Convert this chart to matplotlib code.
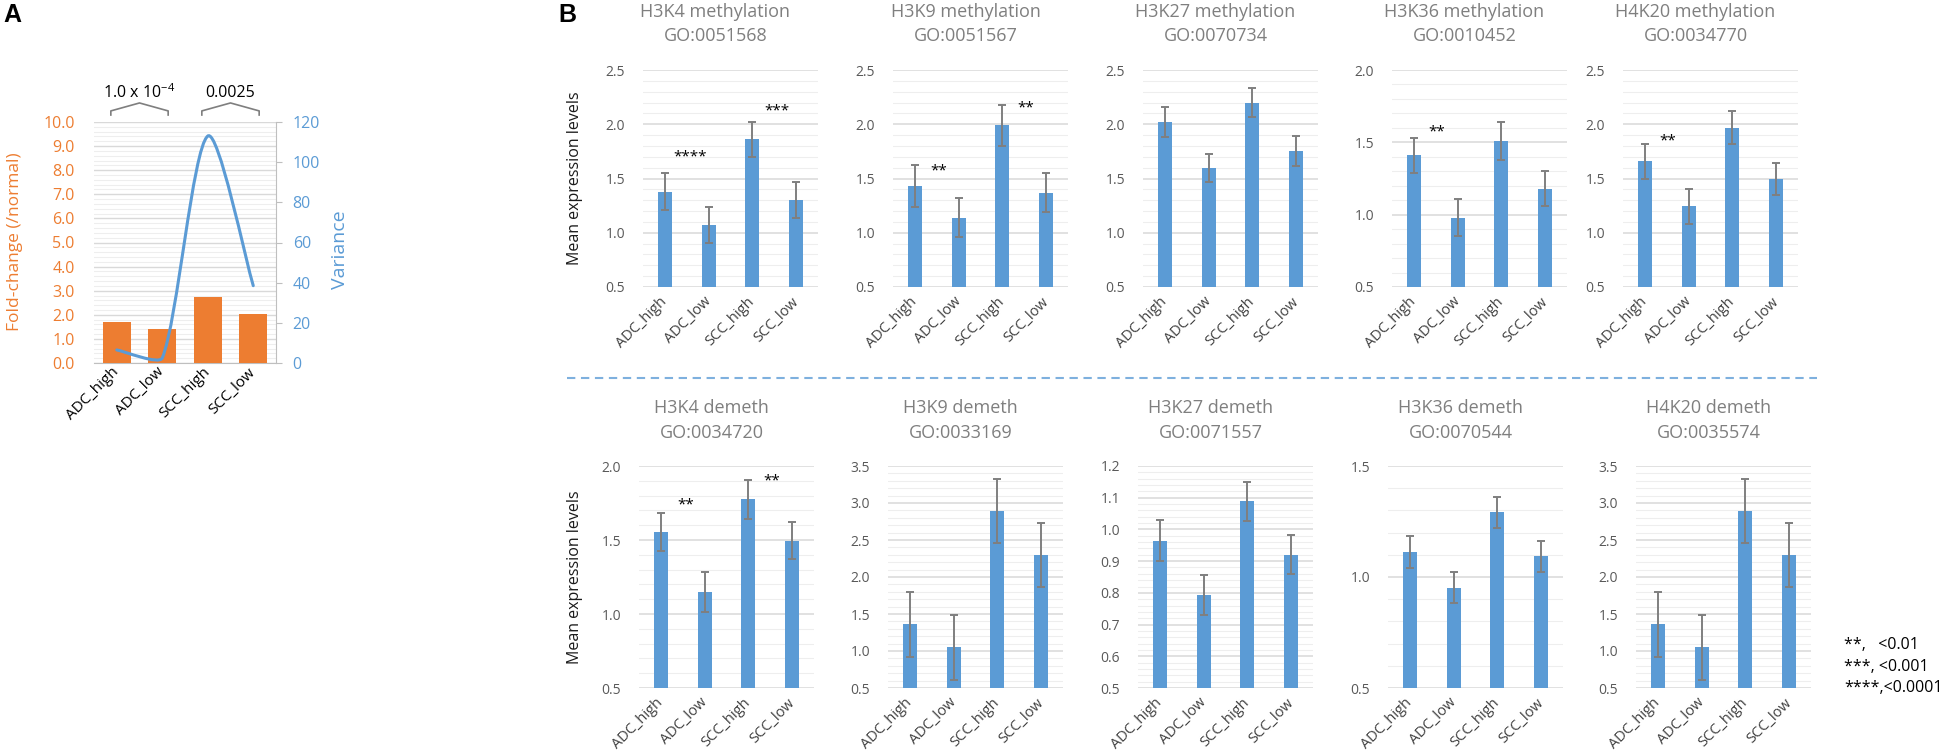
import numpy as np
import matplotlib
matplotlib.use('Agg')
import matplotlib.pyplot as plt
from matplotlib.path import Path
from matplotlib.patches import PathPatch
from matplotlib.lines import Line2D
from matplotlib.ticker import MultipleLocator, FormatStrFormatter
import matplotlib.transforms as mtrans

plt.rcParams['font.family'] = ['Open Sans', 'DejaVu Sans']
plt.rcParams['mathtext.fontset'] = 'custom'
plt.rcParams['mathtext.rm'] = 'Open Sans'
plt.rcParams['mathtext.it'] = 'Open Sans:italic'

# ---------------- data ----------------
categories = ['ADC_high', 'ADC_low', 'SCC_high', 'SCC_low']

# Panel A
fold_change = [1.70, 1.40, 2.75, 2.05]
variance = [6.5, 2.5, 113.0, 38.5]
pval_labels = ['1.0 x 10$^{-4}$', '0.0025']

# Panel B, methylation row
meth_titles = ['H3K4 methylation', 'H3K9 methylation', 'H3K27 methylation',
               'H3K36 methylation', 'H4K20 methylation']
meth_go = ['GO:0051568', 'GO:0051567', 'GO:0070734', 'GO:0010452', 'GO:0034770']
meth_means = [
    [1.38, 1.075, 1.86, 1.30],
    [1.43, 1.14, 1.99, 1.37],
    [2.02, 1.595, 2.20, 1.755],
    [1.41, 0.98, 1.51, 1.18],
    [1.657, 1.245, 1.97, 1.494],
]
meth_err = [
    [0.17, 0.165, 0.16, 0.165],
    [0.19, 0.18, 0.19, 0.18],
    [0.14, 0.13, 0.13, 0.14],
    [0.12, 0.13, 0.13, 0.12],
    [0.16, 0.16, 0.15, 0.15],
]
meth_stars = [
    [('****', 0.58, 1.70), ('***', 2.55, 2.12)],
    [('**', 0.55, 1.57), ('**', 2.53, 2.15)],
    [],
    [('**', 0.53, 1.57)],
    [('**', 0.53, 1.85)],
]
meth_scale = [(0.5, 2.5, 0.5, 0.1), (0.5, 2.5, 0.5, 0.1), (0.5, 2.5, 0.5, 0.1),
              (0.5, 2.0, 0.5, 0.1), (0.5, 2.5, 0.5, 0.1)]

# Panel B, demethylation row
demeth_titles = ['H3K4 demeth', 'H3K9 demeth', 'H3K27 demeth',
                 'H3K36 demeth', 'H4K20 demeth']
demeth_go = ['GO:0034720', 'GO:0033169', 'GO:0071557', 'GO:0070544', 'GO:0035574']
demeth_means = [
    [1.553, 1.15, 1.774, 1.496],
    [1.36, 1.053, 2.89, 2.30],
    [0.964, 0.793, 1.089, 0.92],
    [1.112, 0.951, 1.292, 1.093],
    [1.36, 1.05, 2.89, 2.30],
]
demeth_err = [
    [0.13, 0.135, 0.13, 0.125],
    [0.44, 0.44, 0.43, 0.43],
    [0.065, 0.062, 0.061, 0.062],
    [0.073, 0.07, 0.07, 0.07],
    [0.44, 0.44, 0.43, 0.43],
]
demeth_stars = [
    [('**', 0.57, 1.74), ('**', 2.54, 1.90)],
    [], [], [], [],
]
demeth_scale = [(0.5, 2.0, 0.5, 0.1), (0.5, 3.5, 0.5, 0.1), (0.5, 1.2, 0.1, 0.02),
                (0.5, 1.5, 0.5, 0.1), (0.5, 3.5, 0.5, 0.1)]

legend_lines = ['**,   <0.01', '***, <0.001', '****,<0.0001']

# ---------------- styling ----------------
W, H = 1950, 752
ORANGE = '#ED7D31'
BLUE = '#5B9BD5'
GRID_MAJ = '#D9D9D9'
GRID_MIN = '#EEEEEE'
TICK_GREY = '#595959'
TITLE_GREY = '#7F7F7F'

fig = plt.figure(figsize=(W / 100, H / 100), dpi=100)


def rect(left, top, right, bottom):
    return [left / W, 1 - bottom / H, (right - left) / W, (bottom - top) / H]


def ftext(x, y, s, **kw):
    return fig.text(x / W, 1 - y / H, s, **kw)


# ---------------- Panel A ----------------
axA = fig.add_axes(rect(94, 122, 276, 363))
xpos = np.arange(len(categories))
axA.bar(xpos, fold_change, width=0.62, color=ORANGE, zorder=3)
axA.set_xlim(-0.5, 3.5)
axA.set_ylim(0, 10)
axA.yaxis.set_major_locator(MultipleLocator(1.0))
axA.yaxis.set_minor_locator(MultipleLocator(0.2))
axA.yaxis.set_major_formatter(FormatStrFormatter('%.1f'))
axA.grid(axis='y', which='major', color=GRID_MAJ, lw=1.0, zorder=0)
axA.grid(axis='y', which='minor', color=GRID_MIN, lw=0.8, zorder=0)
axA.set_axisbelow(True)
for s in ['left', 'top', 'right']:
    axA.spines[s].set_visible(False)
axA.spines['bottom'].set_color('#BFBFBF')
axA.tick_params(axis='y', which='both', length=0, labelcolor=ORANGE,
                labelsize=11.5, pad=14)
axA.set_xticks(xpos)
axA.set_xticklabels(categories, rotation=45, ha='right', va='center',
                    rotation_mode='anchor', fontsize=11, color='black')
axA.tick_params(axis='x', length=0, pad=5)

axV = axA.twinx()
axV.set_ylim(0, 120)
axV.yaxis.set_major_locator(MultipleLocator(20))
for s in ['left', 'top', 'bottom']:
    axV.spines[s].set_visible(False)
axV.spines['right'].set_color('#BFBFBF')
axV.tick_params(axis='y', length=4, color='#BFBFBF', labelcolor=BLUE,
                labelsize=11.5, pad=8)

# smoothed variance line (Bezier through the data points, screen-space tangents)
pts = axV.transData.transform(np.column_stack([xpos, variance]))
n = len(pts)
before, after = [], []
for i in range(n):
    p_prev = pts[i - 1] if i > 0 else pts[i]
    p_next = pts[i + 1] if i < n - 1 else pts[i]
    d = (p_next - p_prev) / 6.0
    l_prev = np.hypot(*(pts[i] - p_prev)) if i > 0 else None
    l_next = np.hypot(*(p_next - pts[i])) if i < n - 1 else None
    s_prev = min(1.0, l_prev / l_next) if (l_prev and l_next) else 1.0
    s_next = min(1.0, l_next / l_prev) if (l_prev and l_next) else 1.0
    before.append(pts[i] - d * s_prev)
    after.append(pts[i] + d * s_next)
verts = [pts[0]]
codes = [Path.MOVETO]
for i in range(n - 1):
    verts += [after[i], before[i + 1], pts[i + 1]]
    codes += [Path.CURVE4] * 3
verts = axV.transData.inverted().transform(np.array(verts))
axV.add_patch(PathPatch(Path(verts, codes), facecolor='none', edgecolor=BLUE,
                        lw=2.2, zorder=5, capstyle='round'))

# brackets with p-values
trans = mtrans.blended_transform_factory(axA.transData, axA.transAxes)
for (i, j), lab in zip([(0, 1), (2, 3)], pval_labels):
    mid = (xpos[i] + xpos[j]) / 2
    bx = [mid - 0.63, mid - 0.63, mid, mid + 0.63, mid + 0.63]
    by = [1.029, 1.046, 1.079, 1.046, 1.029]
    axA.plot(bx, by, transform=trans, color='#7F7F7F', lw=1.2, clip_on=False)
    axA.text(mid, 1.122, lab, transform=trans, ha='center', va='center',
             fontsize=11.5, color='black')

ftext(15, 242, 'Fold-change (/normal)', rotation=90, color=ORANGE,
      fontsize=12.5, ha='center', va='center')
ftext(340, 250, 'Variance', rotation=90, color=BLUE, fontsize=14,
      ha='center', va='center')

# ---------------- Panel B ----------------
top_lefts = [643, 893, 1143, 1392, 1623]
bot_lefts = [639, 888, 1138, 1388, 1636]
AXW = 175


def bar_panel(ax, means, errs, scale, stars):
    lo, hi, major, minor = scale
    ax.bar(xpos, means, width=0.32, color=BLUE, zorder=3,
           yerr=errs, error_kw=dict(ecolor='#7F7F7F', elinewidth=1.4,
                                    capsize=2.6, capthick=1.4, zorder=4))
    ax.set_xlim(-0.5, 3.5)
    ax.set_ylim(lo, hi)
    ax.yaxis.set_major_locator(MultipleLocator(major))
    ax.yaxis.set_minor_locator(MultipleLocator(minor))
    ax.yaxis.set_major_formatter(FormatStrFormatter('%.1f'))
    ax.grid(axis='y', which='major', color=GRID_MAJ, lw=1.1, zorder=0)
    ax.grid(axis='y', which='minor', color=GRID_MIN, lw=0.8, zorder=0)
    ax.set_axisbelow(True)
    for s in ax.spines.values():
        s.set_visible(False)
    ax.tick_params(axis='y', which='both', length=0, labelcolor=TICK_GREY,
                   labelsize=10, pad=13)
    ax.set_xticks(xpos)
    ax.set_xticklabels(categories, rotation=45, ha='right', va='center',
                       rotation_mode='anchor', fontsize=10.5, color='#404040')
    ax.tick_params(axis='x', length=0, pad=9)
    for lab, sx, sy in stars:
        ax.text(sx, sy, lab, ha='center', va='center', fontsize=11,
                color='black', zorder=6)


rows = [
    (top_lefts, 70, 287, meth_titles, meth_go, meth_means, meth_err,
     meth_scale, meth_stars, 12, 36),
    (bot_lefts, 466, 688, demeth_titles, demeth_go, demeth_means, demeth_err,
     demeth_scale, demeth_stars, 408, 433),
]
for (lefts, top, bottom, titles, gos, means, errs, scales, stars,
     ty1, ty2) in rows:
    for k, left in enumerate(lefts):
        ax = fig.add_axes(rect(left, top, left + AXW, bottom))
        bar_panel(ax, means[k], errs[k], scales[k], stars[k])
        cx = left + AXW / 2 - 15
        ftext(cx, ty1, titles[k], ha='center', va='center', fontsize=13,
              color=TITLE_GREY)
        ftext(cx, ty2, gos[k], ha='center', va='center', fontsize=13,
              color=TITLE_GREY)
    ftext(575, (top + bottom) / 2, 'Mean expression levels', rotation=90,
          ha='center', va='center', fontsize=11.5, color='#1A1A1A')

# dashed separator
fig.add_artist(Line2D([567 / W, 1817 / W], [1 - 378 / H, 1 - 378 / H],
                      transform=fig.transFigure, color='#7EB0DE', lw=1.5,
                      dashes=(4, 2.7)))

# significance legend
for yy, line in zip([645, 667, 688], legend_lines):
    ftext(1844, yy, line, ha='left', va='center', fontsize=11.5, color='black')

# panel labels
ftext(3, 15, 'A', fontsize=18, fontweight='bold', ha='left', va='center',
      family=['Liberation Sans', 'DejaVu Sans'])
ftext(558, 15, 'B', fontsize=18, fontweight='bold', ha='left', va='center',
      family=['Liberation Sans', 'DejaVu Sans'])

fig.savefig('out.png', dpi=100)
